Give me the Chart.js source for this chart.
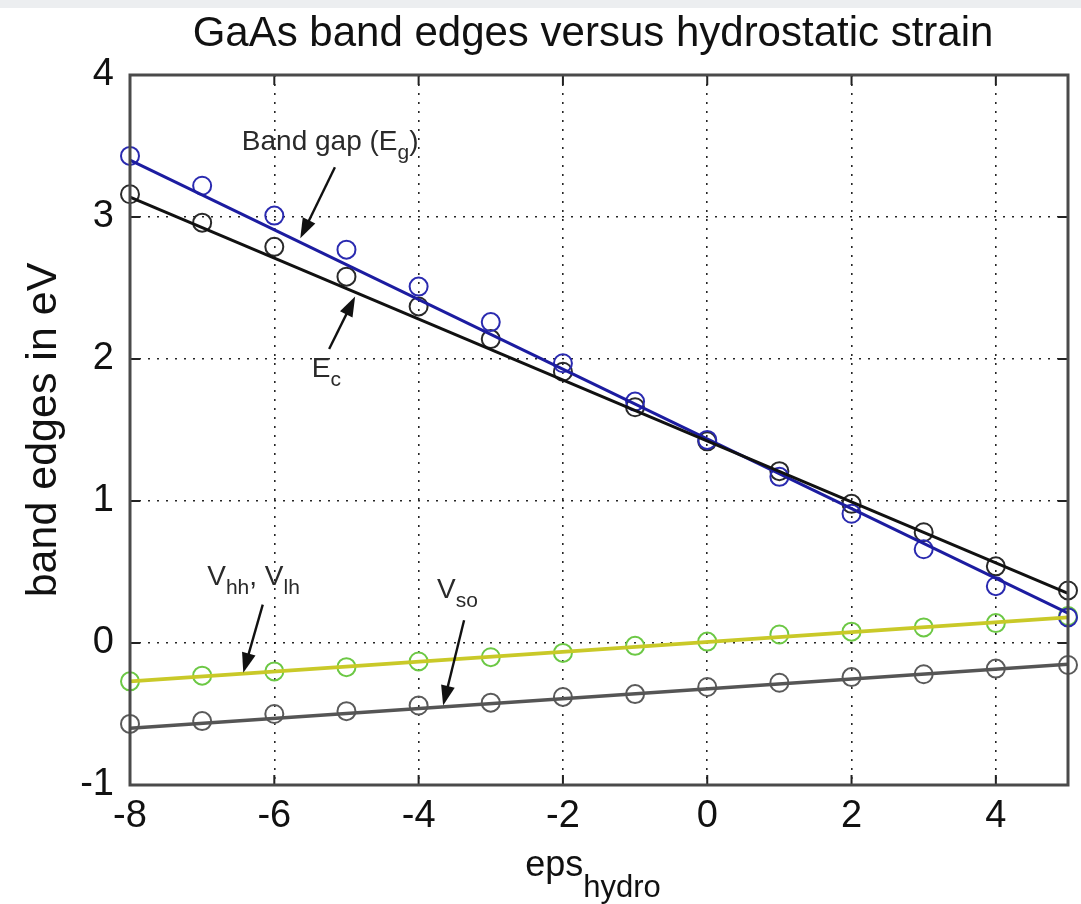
<!DOCTYPE html>
<html>
<head>
<meta charset="utf-8">
<script src="https://cdn.jsdelivr.net/npm/chart.js@4.4.1/dist/chart.umd.min.js"></script>
<style>
html,body{margin:0;padding:0;background:#fff;overflow:hidden}
canvas{display:block}
</style>
</head>
<body>
<canvas id="bandChart" width="1081" height="904"></canvas>
<script>
// values
const strain = [-8,-7,-6,-5,-4,-3,-2,-1,0,1,2,3,4,5];
const bandGap = [3.43,3.22,3.01,2.77,2.51,2.26,1.97,1.70,1.43,1.17,0.91,0.66,0.40,0.18];
const condBand = [3.16,2.96,2.79,2.58,2.37,2.14,1.91,1.66,1.42,1.21,0.98,0.78,0.54,0.37];
const heavyLight = [-0.27,-0.23,-0.20,-0.17,-0.13,-0.10,-0.07,-0.02,0.01,0.06,0.08,0.11,0.14,0.19];
const splitOff = [-0.57,-0.55,-0.50,-0.48,-0.44,-0.42,-0.38,-0.36,-0.31,-0.28,-0.24,-0.22,-0.18,-0.155];

// straight fit lines (end points)
const fitX = [-8, 5];
const bandGapFit = [3.40, 0.21];
const condBandFit = [3.14, 0.35];
const heavyLightFit = [-0.27, 0.18];
const splitOffFit = [-0.60, -0.15];

const xTicks = [-8,-6,-4,-2,0,2,4];
const yTicks = [-1,0,1,2,3,4];

const chartTitle = "GaAs band edges versus hydrostatic strain";
const yTitle = "band edges in eV";

const FONT = '"Liberation Sans", Arial, Helvetica, sans-serif';
Chart.defaults.font.family = FONT;

const pts = (ys, xs = strain) => xs.map((x,i) => ({x:x, y:ys[i]}));

// text labels with arrows, placed in data units
const notes = [
    {parts:[["Band gap (E",0],["g",1],[")",0]], at:[-6.45,3.47], tail:[-5.16,3.35], tip:[-5.64,2.85]},
    {parts:[["E",0],["c",1]], at:[-5.48,1.87], tail:[-5.24,2.07], tip:[-4.88,2.44]},
    {parts:[["V",0],["hh",1],[", ",0],["V",0],["lh",1]], at:[-6.93,0.41], tail:[-6.16,0.27], tip:[-6.43,-0.21]},
    {parts:[["V",0],["so",1]], at:[-3.745,0.32], tail:[-3.37,0.16], tip:[-3.66,-0.44]}
];

function richText(c, parts, x, y, size, subSize, subDrop){
    let cx = x;
    parts.forEach(([t,sub]) => {
        c.font = (sub ? subSize : size) + "px " + FONT;
        c.fillText(t, cx, sub ? y + subDrop : y);
        cx += c.measureText(t).width;
    });
}
function richWidth(c, parts, size, subSize){
    let w = 0;
    parts.forEach(([t,sub]) => {
        c.font = (sub ? subSize : size) + "px " + FONT;
        w += c.measureText(t).width;
    });
    return w;
}

function arrow(c, x1, y1, x2, y2){
    const ang = Math.atan2(y2-y1, x2-x1);
    const hl = 20, hw = 7;
    c.beginPath();
    c.moveTo(x1,y1);
    c.lineTo(x2 - Math.cos(ang)*hl*0.8, y2 - Math.sin(ang)*hl*0.8);
    c.stroke();
    c.beginPath();
    c.moveTo(x2,y2);
    c.lineTo(x2 - Math.cos(ang)*hl - Math.sin(ang)*hw, y2 - Math.sin(ang)*hl + Math.cos(ang)*hw);
    c.lineTo(x2 - Math.cos(ang)*hl + Math.sin(ang)*hw, y2 - Math.sin(ang)*hl - Math.cos(ang)*hw);
    c.closePath();
    c.fill();
}

const frame = {
    id: "frame",
    beforeDraw(chart){
        const c = chart.ctx;
        c.save();
        c.fillStyle = "#fff";
        c.fillRect(0,0,chart.width,chart.height);
        c.fillStyle = "#eceef0";
        c.fillRect(0,0,chart.width,8);
        c.restore();
    },
    afterDraw(chart){
        const {ctx:c, chartArea:a, scales:{x,y}} = chart;
        c.save();
        // inward ticks
        c.strokeStyle = "#222";
        c.lineWidth = 2;
        c.beginPath();
        xTicks.forEach(v => {
            const p = x.getPixelForValue(v);
            c.moveTo(p,a.bottom); c.lineTo(p,a.bottom-10);
            c.moveTo(p,a.top); c.lineTo(p,a.top+10);
        });
        yTicks.forEach(v => {
            const p = y.getPixelForValue(v);
            c.moveTo(a.left,p); c.lineTo(a.left+10,p);
            c.moveTo(a.right,p); c.lineTo(a.right-10,p);
        });
        c.stroke();
        // box
        c.strokeStyle = "#4a4a4a";
        c.lineWidth = 3;
        c.strokeRect(a.left,a.top,a.right-a.left,a.bottom-a.top);

        // title
        c.fillStyle = "#111";
        c.textBaseline = "alphabetic";
        c.textAlign = "center";
        c.font = "42px " + FONT;
        c.fillText(chartTitle, 593, 46);

        // y title
        c.save();
        c.translate(44, 430);
        c.rotate(-Math.PI/2);
        c.textBaseline = "middle";
        c.font = "43px " + FONT;
        c.fillText(yTitle, 0, 0);
        c.restore();

        // x title with subscript
        c.textAlign = "left";
        const xt = [["eps",0],["hydro",1]];
        const w = richWidth(c, xt, 36, 31);
        richText(c, xt, 593 - w/2, 876, 36, 31, 21);

        // annotations
        c.fillStyle = "#2a2a2a";
        c.strokeStyle = "#111";
        c.lineWidth = 2.4;
        notes.forEach(n => {
            richText(c, n.parts, x.getPixelForValue(n.at[0]), y.getPixelForValue(n.at[1]), 28, 21, 9);
            c.fillStyle = "#111";
            arrow(c, x.getPixelForValue(n.tail[0]), y.getPixelForValue(n.tail[1]),
                     x.getPixelForValue(n.tip[0]), y.getPixelForValue(n.tip[1]));
            c.fillStyle = "#2a2a2a";
        });
        c.restore();
    }
};

const lineDs = (label, ys, color, width) => ({
    label, data: pts(ys, fitX), showLine: true, borderColor: color, borderWidth: width,
    pointRadius: 0, fill: false, clip: false
});
const dotDs = (label, ys, color) => ({
    label, data: pts(ys), showLine: false, pointRadius: 9, pointHoverRadius: 9,
    pointStyle: "circle", borderColor: color, backgroundColor: "rgba(0,0,0,0)", pointBorderWidth: 2,
    clip: false
});

new Chart(document.getElementById("bandChart"), {
    type: "scatter",
    data: {
        datasets: [
            lineDs("Ec fit", condBandFit, "#111111", 3),
            lineDs("Eg fit", bandGapFit, "#1c1ca0", 3),
            lineDs("Vhh fit", heavyLightFit, "#c9c928", 3.8),
            lineDs("Vso fit", splitOffFit, "#555555", 3.6),
            dotDs("Eg", bandGap, "#2a2ab0"),
            dotDs("Ec", condBand, "#2a2a2a"),
            dotDs("Vhh, Vlh", heavyLight, "#6cc845"),
            dotDs("Vso", splitOff, "#5a5a5a")
        ]
    },
    options: {
        responsive: false,
        animation: false,
        events: [],
        layout: {padding: {top: 75, right: 13, left: 0, bottom: 0}},
        plugins: {legend: {display: false}, tooltip: {enabled: false}},
        scales: {
            x: {
                type: "linear", min: -8, max: 5,
                afterBuildTicks: s => { s.ticks = xTicks.map(v => ({value: v})); },
                afterFit: s => { s.height = 119; },
                grid: {color: "rgba(0,0,0,0.85)", lineWidth: 1.6, drawTicks: false},
                border: {display: false, dash: [2,7]},
                ticks: {color: "#111", font: {size: 38}, padding: 9, maxRotation: 0}
            },
            y: {
                type: "linear", min: -1, max: 4,
                afterBuildTicks: s => { s.ticks = yTicks.map(v => ({value: v})); },
                afterFit: s => { s.width = 130; },
                grid: {color: "rgba(0,0,0,0.85)", lineWidth: 1.6, drawTicks: false},
                border: {display: false, dash: [2,7]},
                ticks: {color: "#111", font: {size: 38}, padding: 16}
            }
        }
    },
    plugins: [frame]
});
</script>
</body>
</html>
